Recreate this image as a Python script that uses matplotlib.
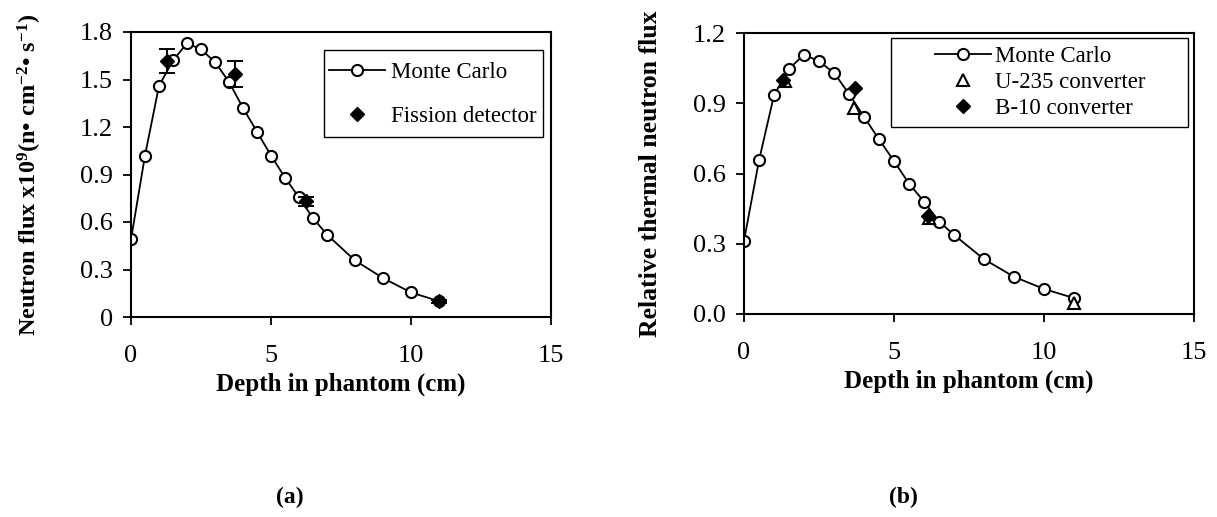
import matplotlib
matplotlib.use("Agg")
import matplotlib.pyplot as plt
from matplotlib.lines import Line2D
from matplotlib.patches import Rectangle

plt.rcParams["font.family"] = ["Liberation Serif", "DejaVu Serif"]
plt.rcParams["mathtext.fontset"] = "custom"
plt.rcParams["mathtext.rm"] = "Liberation Serif:bold"
plt.rcParams["mathtext.bf"] = "Liberation Serif:bold"
plt.rcParams["mathtext.it"] = "Liberation Serif:bold"

# Monte Carlo depths (cm), shared by both panels
mc_depth = [0, 0.5, 1, 1.5, 2, 2.5, 3, 3.5, 4, 4.5, 5, 5.5, 6, 6.5, 7, 8, 9, 10, 11]

# panel (a): absolute flux x1e9
mc_flux_a = [0.49, 1.02, 1.46, 1.62, 1.73, 1.69, 1.61, 1.485, 1.32, 1.17, 1.02,
             0.88, 0.755, 0.625, 0.52, 0.357, 0.246, 0.155, 0.10]
fission_depth = [1.3, 3.72, 6.26, 11.0]
fission_flux = [1.615, 1.535, 0.73, 0.10]
fission_err = [0.076, 0.082, 0.03, 0.01]

# panel (b): relative flux
mc_flux_b = [0.312, 0.656, 0.934, 1.047, 1.108, 1.079, 1.03, 0.94, 0.842, 0.746,
             0.653, 0.557, 0.48, 0.395, 0.338, 0.234, 0.159, 0.107, 0.068]
u235_depth = [1.36, 3.65, 6.17, 11.0]
u235_flux = [0.994, 0.88, 0.41, 0.047]
b10_depth = [1.29, 3.69, 6.14]
b10_flux = [1.0, 0.966, 0.42]

W, H = 1217, 517
fig = plt.figure(figsize=(W / 100, H / 100), dpi=100)
ax1 = fig.add_axes([131 / W, 1 - 317 / H, 420 / W, 285 / H])
ax2 = fig.add_axes([744 / W, 1 - 314 / H, 450 / W, 281 / H])


def px_box(x0, y0, x1, y1):
    # excel-style legend frame, given in pixels from the top-left corner
    fig.add_artist(Rectangle((x0 / W, 1 - y1 / H), (x1 - x0) / W, (y1 - y0) / H,
                             transform=fig.transFigure, fill=False,
                             edgecolor="black", lw=1.0))


mc_style = dict(color="black", lw=1.3, marker="o", ms=8, mfc="white",
                mec="black", mew=1.5, label="Monte Carlo")
leg_style = dict(loc="upper left", bbox_transform=fig.transFigure,
                 fontsize=16.5, frameon=False, handlelength=2.45,
                 borderpad=0, borderaxespad=0)

ax1.plot(mc_depth, mc_flux_a, **mc_style)
ax1.errorbar(fission_depth, fission_flux, yerr=fission_err, fmt="D", ms=7.5,
             color="black", ecolor="black", elinewidth=1.4, capsize=6,
             capthick=1.4, zorder=3)
ax1.set_ylim(0, 1.8)
ax1.set_yticks([0, 0.3, 0.6, 0.9, 1.2, 1.5, 1.8])
ax1.set_yticklabels(["0", "0.3", "0.6", "0.9", "1.2", "1.5", "1.8"])
ax1.set_ylabel("Neutron flux x10$^{9}$(n• cm$^{-2}$• s$^{-1}$)",
               fontsize=17.5, fontweight="bold", labelpad=26)
h1 = [Line2D([], [], **mc_style),
      Line2D([], [], ls="none", marker="D", ms=7.5, color="black")]
ax1.legend(h1, ["Monte Carlo", "Fission detector"],
           bbox_to_anchor=(329 / W, 1 - 62 / H), labelspacing=0.99,
           handletextpad=0.26, **leg_style)
px_box(324, 50, 543, 137)

ax2.plot(mc_depth, mc_flux_b, **mc_style)
ax2.plot(u235_depth, u235_flux, ls="none", marker="^", ms=8, mfc="white",
         mec="black", mew=1.5, label="U-235 converter", zorder=3)
ax2.plot(b10_depth, b10_flux, ls="none", marker="D", ms=7.5, color="black",
         label="B-10 converter", zorder=3)
ax2.set_ylim(0, 1.2)
ax2.set_yticks([0, 0.3, 0.6, 0.9, 1.2])
ax2.set_yticklabels(["0.0", "0.3", "0.6", "0.9", "1.2"])
ax2.set_ylabel("Relative thermal neutron flux", fontsize=18.5,
               fontweight="bold", labelpad=22)
ax2.legend(bbox_to_anchor=(935 / W, 1 - 46 / H), labelspacing=0.22,
           handletextpad=0.18, **leg_style)
px_box(891, 38, 1188, 127)

for ax in (ax1, ax2):
    ax.set_xlim(0, 15)
    ax.set_xticks([0, 5, 10, 15])
    ax.set_xlabel("Depth in phantom (cm)", fontsize=18, fontweight="bold",
                  labelpad=4)
    ax.tick_params(direction="out", length=6, width=1.3, labelsize=19,
                   top=False, right=False)
    ax.tick_params(axis="x", pad=14)
    ax.tick_params(axis="y", pad=7)
    for s in ax.spines.values():
        s.set_linewidth(1.5)

fig.text(290 / W, 1 - 497 / H, "(a)", fontsize=17, fontweight="bold",
         ha="center", va="center")
fig.text(903 / W, 1 - 497 / H, "(b)", fontsize=17, fontweight="bold",
         ha="center", va="center")

fig.savefig("out.png", dpi=100)
